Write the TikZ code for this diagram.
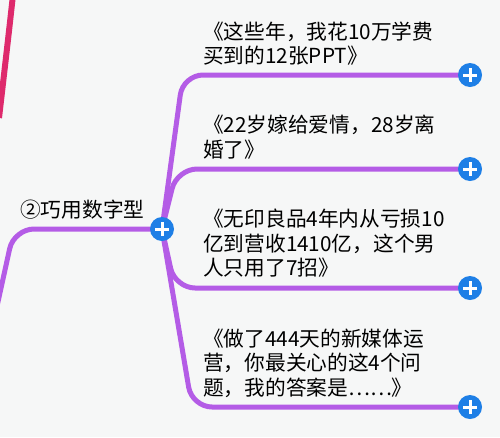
\documentclass[tikz,border=0pt]{standalone}
\usepackage{fontspec}
\setmainfont{Noto Sans CJK SC}
\definecolor{bgcol}{HTML}{F6F7F7}
\definecolor{branchcol}{HTML}{B45CE6}
\definecolor{pluscol}{HTML}{1E7FE6}
\definecolor{pinkcol}{HTML}{DE2A6C}
\pgfdeclarelayer{back}
\pgfsetlayers{back,main}
\tikzset{
  branch/.style={draw=branchcol, line width=5pt, rounded corners=20pt},
  plusdot/.style={circle, fill=pluscol, minimum size=24pt, inner sep=0pt,
    path picture={
      \draw[white, line width=3pt] ([xshift=-7pt]path picture bounding box.center) -- ([xshift=7pt]path picture bounding box.center);
      \draw[white, line width=3pt] ([yshift=-7pt]path picture bounding box.center) -- ([yshift=7pt]path picture bounding box.center);}},
  leaf/.style={anchor=south west, inner sep=0pt, align=left, text depth=0pt,
    font=\fontsize{20.7}{24.5}\selectfont}
}

\begin{document}
\begin{tikzpicture}[x=1pt,y=-1pt]
\begin{pgfonlayer}{back}
\fill[bgcol] (0,0) rectangle (500,437);
\end{pgfonlayer}
\clip (0,0) rectangle (500,437);

% Pink branch at the edge
\draw[pinkcol, line width=6pt] (13,-5) .. controls (8,40) .. (-1,118);

% Root and leaf ends
\node[plusdot] (root) at (162,229) {};
\node[plusdot] (b1) at (470,75) {};
\node[plusdot] (b2) at (470,169) {};
\node[plusdot] (b3) at (470,288) {};
\node[plusdot] (b4) at (470,407) {};
\coordinate (trunk) at (-6,320);
\coordinate (k0) at (14,229);
\coordinate (k1) at (183,75);
\coordinate (k2) at (177,169);
\coordinate (k3) at (175,288);
\coordinate (k4) at (192,407);

% Branches
\begin{pgfonlayer}{back}
\draw[branch] (trunk) -- (k0) -- (root.center);
\draw[branch] (root.center) -- (k1) -- (b1.center);
\draw[branch] (root.center) -- (k2) -- (b2.center);
\draw[branch] (root.center) -- (k3) -- (b3.center);
\draw[branch] (root.center) -- (k4) -- (b4.center);
\end{pgfonlayer}

% Texts
\node[anchor=base west, inner sep=0pt, font=\fontsize{20.7}{24.5}\selectfont] (rootlabel) at (20,217.5) {②巧用数字型};
\node[leaf] (t1) at (203,64) {《这些年，我花10万学费\\买到的12张PPT》};
\node[leaf] (t2) at (203,157.5) {《22岁嫁给爱情，28岁离\\婚了》};
\node[leaf] (t3) at (203,276) {《无印良品4年内从亏损10\\亿到营收1410亿，这个男\\人只用了7招》};
\node[leaf] (t4) at (203,395.5) {《做了444天的新媒体运\\营，你最关心的这4个问\\题，我的答案是……》};
\end{tikzpicture}
\end{document}
